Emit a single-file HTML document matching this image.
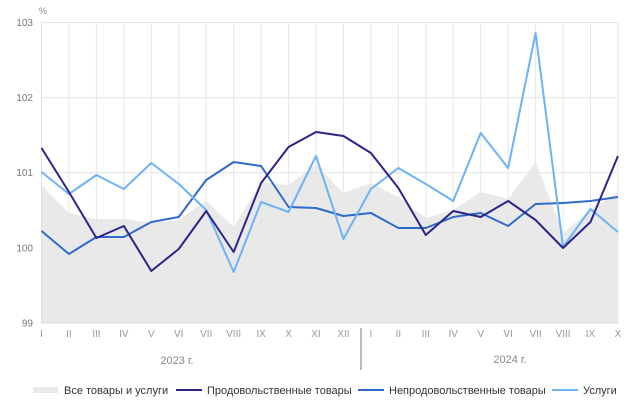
<!DOCTYPE html>
<html><head><meta charset="utf-8"><style>body{margin:0;background:#fff}svg{display:block;font-family:"Liberation Sans",sans-serif}</style></head><body>
<svg width="640" height="401" viewBox="0 0 640 401">
<g id="c"></g>
</svg>
<script>
const X=i=>41.5+i*27.45;
const food=[148,192,238,226,271,249,211,252,183,147,132,136,153,188,235,211,217,201,220,248,222,156];
const nf=[231,254,237,237,222,217,180,162,166,207,208,216,213,228,228,217,213,226,204,203,201,197];
const sv=[172,194,175,189,163,184,210,272,202,212,156,239,189,168,184,201,133,168,33,247,209,232];
const all=[185,213,219,219,223,220,201,227,182,185,165,193,183,197,218,210,192,199,162,233,210,192];
const m=["I","II","III","IV","V","VI","VII","VIII","IX","X","XI","XII","I","II","III","IV","V","VI","VII","VIII","IX","X"];
let s='';
s+=`<path d="M41.5,323 ${all.map((v,i)=>'L'+X(i)+','+v).join(' ')} L${X(21)},323Z" fill="#e9e9e9"/>`;
for(let i=0;i<22;i++)s+=`<line x1="${X(i)}" y1="22.5" x2="${X(i)}" y2="323" stroke="#e6e6e6" stroke-width="1"/>`;
[22.5,97.6,172.7,247.8].forEach(y=>s+=`<line x1="41.5" y1="${y}" x2="618" y2="${y}" stroke="#e6e6e6"/>`);
s+=`<line x1="41.5" y1="22" x2="41.5" y2="323" stroke="#ddd"/><line x1="41.5" y1="323" x2="618" y2="323" stroke="#ddd"/>`;
const pl=(a,c)=>`<polyline points="${a.map((v,i)=>X(i)+','+v).join(' ')}" fill="none" stroke="${c}" stroke-width="2" stroke-linejoin="round"/>`;
s+=pl(nf,'#2f6bc8')+pl(sv,'#6db3f5')+pl(food,'#2b2589');
[[103,22.5],[102,97.6],[101,172.7],[100,247.8],[99,323]].forEach(([t,y])=>s+=`<text x="33" y="${y+3.5}" font-size="10" fill="#777" text-anchor="end">${t}</text>`);
s+=`<text x="39" y="14" font-size="9" fill="#888">%</text>`;
m.forEach((t,i)=>s+=`<text x="${X(i)}" y="337" font-size="10" fill="#999" text-anchor="middle">${t}</text>`);
s+=`<line x1="361" y1="328" x2="361" y2="370" stroke="#bbb" stroke-width="2"/>`;
s+=`<text x="177" y="364" font-size="11" fill="#888" text-anchor="middle">2023 г.</text><text x="510" y="363" font-size="11" fill="#888" text-anchor="middle">2024 г.</text>`;
s+=`<rect x="33" y="387" width="25" height="6" fill="#e9e9e9"/><text x="64" y="394" font-size="11" fill="#333">Все товары и услуги</text>`;
s+=`<line x1="176" y1="390" x2="202" y2="390" stroke="#2b2589" stroke-width="2"/><text x="207" y="394" font-size="11" fill="#333">Продовольственные товары</text>`;
s+=`<line x1="358" y1="390" x2="384" y2="390" stroke="#2f6bc8" stroke-width="2"/><text x="389" y="394" font-size="11" fill="#333">Непродовольственные товары</text>`;
s+=`<line x1="552" y1="390" x2="578" y2="390" stroke="#6db3f5" stroke-width="2"/><text x="583" y="394" font-size="11" fill="#333">Услуги</text>`;
document.getElementById('c').innerHTML=s;
</script>
</body></html>
